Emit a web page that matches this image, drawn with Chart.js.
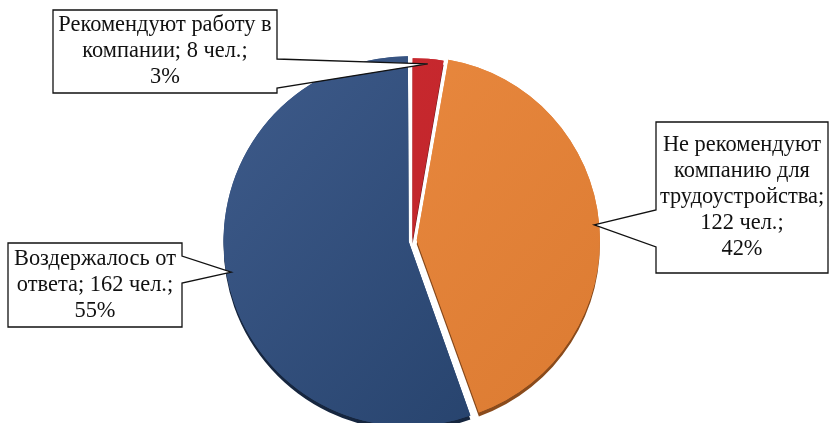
<!DOCTYPE html>
<html>
<head>
<meta charset="utf-8">
<script src="https://cdn.jsdelivr.net/npm/chart.js@4/dist/chart.umd.min.js"></script>
<style>
  html, body { margin: 0; padding: 0; background: #fff; }
  #wrap { width: 833px; height: 423px; position: relative; }
</style>
</head>
<body>
<div id="wrap"><canvas id="pie"></canvas></div>
<script>
// data
const categories = ['Рекомендуют работу в компании', 'Не рекомендуют компанию для трудоустройства', 'Воздержалось от ответа'];
const counts = [8, 122, 162];
const percents = [3, 42, 55];

// colours: top / bottom of gradient, rim underneath
const topColors = ['#cd2a30', '#ec8c42', '#3f5c8c'];
const bottomColors = ['#b82328', '#db7a31', '#223e67'];
const rimColors = ['#6e1212', '#8a4b1c', '#16263f'];

// callout boxes: rect + where the pointer leaves the box
const boxes = [
  { x: 53, y: 10, w: 224, h: 83, side: 'right', p1: 59, p2: 88, maxW: 222 },
  { x: 656, y: 122, w: 172, h: 151, side: 'left', p1: 210, p2: 247, maxW: 182 },
  { x: 8, y: 243, w: 174, h: 84, side: 'right', p1: 256, p2: 283, maxW: 180 }
];

const FONT = '22.4px "Liberation Serif", "Times New Roman", serif';

function wrapText(ctx, text, maxW) {
  const out = [];
  text.split('\n').forEach(par => {
    let line = '';
    par.split(' ').forEach(word => {
      const test = line ? line + ' ' + word : word;
      if (ctx.measureText(test).width > maxW && line) {
        out.push(line);
        line = word;
      } else {
        line = test;
      }
    });
    out.push(line);
  });
  return out;
}

// darker rim under each slice (fake 3D edge)
const rimPlugin = {
  id: 'rim',
  beforeDatasetsDraw(chart) {
    const ctx = chart.ctx;
    chart.getDatasetMeta(0).data.forEach((arc, i) => {
      ctx.save();
      ctx.shadowColor = rimColors[i];
      ctx.shadowOffsetY = 4;
      ctx.shadowBlur = 0;
      arc.draw(ctx);
      ctx.restore();
    });
  }
};

// callout labels
const calloutPlugin = {
  id: 'callouts',
  afterDatasetsDraw(chart) {
    const ctx = chart.ctx;
    const meta = chart.getDatasetMeta(0);
    meta.data.forEach((arc, i) => {
      const p = arc.getProps(['x', 'y', 'startAngle', 'endAngle', 'outerRadius', 'circumference']);
      const mid = (p.startAngle + p.endAngle) / 2;
      const off = (arc.options.offset || 0) / 4;
      const fix = 1 - Math.sin(Math.min(Math.PI, p.circumference || 0));
      const shift = off * (1 + fix);
      // pointer ends a little inside the slice edge
      const tx = p.x + Math.cos(mid) * (p.outerRadius + shift - 5);
      const ty = p.y + Math.sin(mid) * (p.outerRadius + shift - 5);

      const b = boxes[i];
      ctx.save();
      ctx.beginPath();
      if (b.side === 'right') {
        const r = b.x + b.w;
        ctx.moveTo(b.x, b.y);
        ctx.lineTo(r, b.y);
        ctx.lineTo(r, b.p1);
        ctx.lineTo(tx, ty);
        ctx.lineTo(r, b.p2);
        ctx.lineTo(r, b.y + b.h);
        ctx.lineTo(b.x, b.y + b.h);
      } else {
        const r = b.x + b.w;
        ctx.moveTo(b.x, b.y);
        ctx.lineTo(r, b.y);
        ctx.lineTo(r, b.y + b.h);
        ctx.lineTo(b.x, b.y + b.h);
        ctx.lineTo(b.x, b.p2);
        ctx.lineTo(tx, ty);
        ctx.lineTo(b.x, b.p1);
      }
      ctx.closePath();
      ctx.fillStyle = '#fff';
      ctx.fill();
      ctx.lineWidth = 1.3;
      ctx.strokeStyle = '#111';
      ctx.stroke();

      ctx.font = FONT;
      ctx.fillStyle = '#111';
      ctx.textAlign = 'center';
      ctx.textBaseline = 'middle';
      const text = categories[i] + '; ' + counts[i] + ' чел.;\n' + percents[i] + '%';
      const lines = wrapText(ctx, text, b.maxW);
      const lh = 26;
      const cy = b.y + b.h / 2 - (lines.length - 1) * lh / 2;
      lines.forEach((ln, k) => ctx.fillText(ln, b.x + b.w / 2, cy + k * lh));
      ctx.restore();
    });
  }
};

window.addEventListener('DOMContentLoaded', () => {
  const canvas = document.getElementById('pie');
  new Chart(canvas.getContext('2d'), {
    type: 'pie',
    data: {
      labels: categories,
      datasets: [{
        data: counts,
        radius: 181,
        offset: [3, 17, 16],
        borderWidth: 0,
        backgroundColor: (c) => {
          const area = c.chart.chartArea;
          const i = c.dataIndex;
          if (!area) return topColors[i];
          const g = c.chart.ctx.createLinearGradient(area.left + 200, area.top, area.right - 200, area.bottom);
          g.addColorStop(0, topColors[i]);
          g.addColorStop(1, bottomColors[i]);
          return g;
        }
      }]
    },
    options: {
      responsive: true,
      maintainAspectRatio: false,
      animation: false,
      layout: { padding: { left: 0, right: 8, top: 58, bottom: 0 } },
      plugins: {
        legend: { display: false },
        tooltip: { enabled: false }
      },
      events: []
    },
    plugins: [rimPlugin, calloutPlugin]
  });
});
</script>
</body>
</html>
